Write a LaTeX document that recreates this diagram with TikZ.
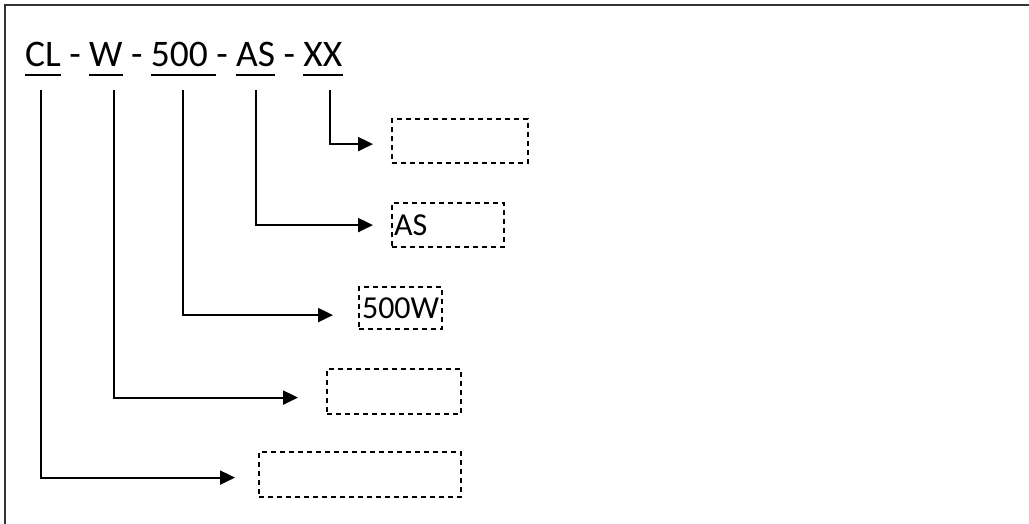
\documentclass[tikz,border=0pt]{standalone}
\usepackage{fontspec}
\setmainfont{Carlito}
\usetikzlibrary{arrows.meta,positioning,calc}

\begin{document}
\begin{tikzpicture}[x=1pt,y=-1pt,
    seg/.style={inner sep=0pt,anchor=base west,font=\fontsize{37.5}{45}\selectfont},
    sep/.style={seg,inner xsep=8pt},
    uline/.style={line width=2pt},
    conn/.style={line width=2.2pt,-{Triangle[length=15pt,width=14pt]}},
    codebox/.style={draw,dashed,dash pattern=on 5pt off 4pt,line width=2.2pt,
      inner xsep=1pt,inner ysep=0pt,anchor=north west,
      font=\fontsize{32}{38}\selectfont}]
  \useasboundingbox (0,0) rectangle (1029,524);
  % Moldura
  \draw[black!80,line width=2.2pt] (5,524) -- (5,5) -- (1029,5);
  % Codigo
  \node[seg] (cl) at (25,67) {CL};
  \node[sep] (s1) at (cl.base east) {-};
  \node[seg] (w) at (s1.base east) {W};
  \node[sep] (s2) at (w.base east) {-};
  \node[seg] (five) at (s2.base east) {500\kern8pt};
  \node[seg,inner xsep=0pt] (s3) at (five.base east) {-\kern8pt};
  \node[seg] (as) at (s3.base east) {AS};
  \node[sep] (s4) at (as.base east) {-};
  \node[seg] (xx) at (s4.base east) {XX};
  \foreach \n in {cl,w,five,as,xx}
    \draw[uline] ([yshift=-8pt]\n.base west) -- ([yshift=-8pt]\n.base east);
  % Caixas
  \node[codebox,minimum width=136pt,minimum height=44pt] (bxx) at (391,118) {};
  \node[codebox,minimum width=112pt,minimum height=44pt,text width=108pt,align=left]
    (bas) at (391,202) {AS};
  \node[codebox,minimum width=83pt,minimum height=42pt] (bfive) at (358,286) {500W};
  \node[codebox,minimum width=134pt,minimum height=45pt] (bw) at (326,368) {};
  \node[codebox,minimum width=202pt,minimum height=45pt] (bcl) at (258,451) {};
  % Setas
  \foreach \s/\b/\dx/\dy/\gap in {cl/bcl/-2/3/23, w/bw/8/6/28, five/bfive/0/7/25,
      as/bas/0/0/18, xx/bxx/7/3/18}
    \draw[conn,shorten >=\gap pt]
      ([xshift=\dx pt,yshift=-23pt]\s.base) |- ([yshift=-\dy pt]\b.west);
\end{tikzpicture}
\end{document}
